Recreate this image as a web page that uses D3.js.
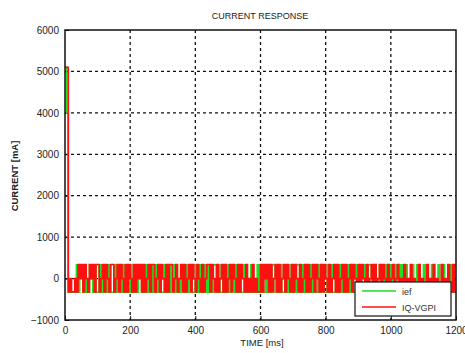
<!DOCTYPE html>
<html><head><meta charset="utf-8">
<script src="https://cdn.jsdelivr.net/npm/d3@7"></script>
<style>body{margin:0;background:#fff}svg{display:block}text{font-family:"Liberation Sans",Arial,sans-serif}</style>
</head><body>
<svg id="c" width="465" height="353"></svg>
<script>
const sampleMs = 5;
const xTicks = [0,200,400,600,800,1000,1200];
const yTicks = [-1000,0,1000,2000,3000,4000,5000,6000];
const seriesNames = ["ief","IQ-VGPI"];
// iref samples every 5 ms (mA)
const irefValues = [
5100,4000,-330,-330,-330,-330,-330,330,
-330,330,330,-330,330,-330,-330,330,
330,-330,330,-330,-330,330,-330,330,
-330,330,-330,330,-330,-330,330,-330,
330,330,-330,330,-330,330,-330,-330,
330,-330,-330,330,-330,330,330,-330,
-330,330,-330,330,330,-330,330,-330,
330,-330,330,-330,-330,330,-330,330,
-330,330,330,-330,330,-330,-330,330,
330,-330,330,-330,330,330,-330,-330,
330,-330,330,-330,-330,330,-330,330,
-330,330,-330,330,330,-330,330,-330,
-330,330,-330,-330,330,-330,330,330,
-330,330,-330,330,-330,-330,330,-330,
-330,-330,330,-330,-330,-330,330,-330,
330,-330,-330,330,-330,330,-330,330,
330,-330,330,-330,330,-330,-330,330,
-330,330,-330,-330,330,-330,330,330,
-330,330,-330,330,-330,-330,330,-330,
330,-330,-330,330,-330,330,330,-330,
-330,330,-330,330,-330,-330,330,-330,
330,-330,330,-330,-330,330,-330,330,
330,-330,-330,330,-330,330,-330,-330,
330,-330,330,330,-330,-330,330,-330,
-330,330,-330,330,-330,330,-330,-330,
330,-330,-330,330,-330,-330,330,-330,
-330,330,-330,-330,-330,330,-330,-330,
330,-330,-330,-330,330,-330,-330,-330,
-330,330,-330,-330,-330,330,-330,-330,
330,-330,-330,-330,330,-330,-330,330];
// IQ-VGPI samples every 5 ms (mA)
const iqVgpiValues = [
5100,5100,-320,0,-320,-320,0,-320,
340,0,340,-320,340,0,-320,340,
0,340,-320,340,340,-320,0,340,
-320,340,0,-320,340,340,-320,0,
340,-320,340,0,-320,340,-320,340,
0,-320,340,-320,340,0,340,-320,
340,-320,0,340,-320,340,340,-320,
0,340,-320,340,0,-320,340,-320,
340,340,-320,0,340,-320,0,340,
-320,340,-320,0,340,-320,340,0,
-320,340,0,-320,340,-320,0,340,
340,-320,340,0,-320,340,-320,0,
340,-320,340,-320,0,340,-320,340,
0,-320,340,-320,340,0,-320,340,
-320,0,-320,340,-320,0,-320,-320,
340,-320,340,0,340,-320,340,-320,
0,340,-320,340,-320,0,340,-320,
340,0,-320,340,-320,340,0,-320,
340,-320,0,340,-320,340,-320,0,
340,-320,340,0,-320,340,-320,340,
0,-320,340,-320,0,340,-320,340,
-320,0,340,-320,340,-320,0,340,
-320,340,0,-320,340,-320,340,0,
-320,340,-320,0,340,-320,340,-320,
0,340,-320,340,0,-320,340,-320,
0,340,-320,0,340,-320,0,-320,
340,-320,0,-320,340,-320,0,-320,
-320,340,-320,0,-320,-320,340,-320,
0,-320,340,-320,0,-320,-320,340,
-320,0,-320,340,-320,-320,340,-320];

const svg = d3.select("#c");
const m = {l:65, r:456, t:30, b:320};
const x = d3.scaleLinear().domain([0,1200]).range([m.l,m.r]);
const y = d3.scaleLinear().domain([-1000,6000]).range([m.b,m.t]);

// grid
const g = svg.append("g");
xTicks.slice(1,-1).forEach(v=>g.append("line").attr("x1",x(v)).attr("x2",x(v)).attr("y1",m.t).attr("y2",m.b)
  .attr("stroke","#111").attr("stroke-width",1.3).attr("stroke-dasharray","3,3"));
yTicks.slice(1,-1).forEach(v=>g.append("line").attr("x1",m.l).attr("x2",m.r).attr("y1",y(v)).attr("y2",y(v))
  .attr("stroke","#111").attr("stroke-width",1.3).attr("stroke-dasharray","3,3"));

// axes
const ax = svg.append("g").attr("transform",`translate(0,${m.b})`)
  .call(d3.axisBottom(x).tickValues(xTicks).tickSize(-4).tickPadding(8).tickFormat(d3.format("d")));
const ay = svg.append("g").attr("transform",`translate(${m.l},0)`)
  .call(d3.axisLeft(y).tickValues(yTicks).tickSize(-4).tickPadding(6).tickFormat(d3.format("d")));
[ax,ay].forEach(a=>{a.select(".domain").remove();a.selectAll("line").attr("stroke","#111");
  a.selectAll("text").attr("font-size",10).attr("fill","#222");});
ax.selectAll("text").attr("dy","0.6em");

// data lines
const toPts = vals => { const p = vals.map((v,i)=>[i*sampleMs,v]); p.push([1200,vals[vals.length-1]]); return p; };
const line = d3.line().x(d=>x(d[0])).y(d=>y(d[1])).curve(d3.curveStepAfter);
const clip = svg.append("clipPath").attr("id","pc").append("rect").attr("x",m.l).attr("y",m.t).attr("width",m.r-m.l).attr("height",m.b-m.t);
const lg = svg.append("g").attr("clip-path","url(#pc)");
lg.append("path").attr("d",line(toPts(irefValues))).attr("fill","none").attr("stroke","#22dd22").attr("stroke-width",1.7);
lg.append("path").attr("d",line(toPts(iqVgpiValues))).attr("fill","none").attr("stroke","#ff1010").attr("stroke-width",1.7);

// border
svg.append("rect").attr("x",m.l).attr("y",m.t).attr("width",m.r-m.l).attr("height",m.b-m.t)
  .attr("fill","none").attr("stroke","#111").attr("stroke-width",1.5);

// legend
const L = svg.append("g");
L.append("rect").attr("x",355).attr("y",282).attr("width",96).attr("height",34).attr("fill","#fff").attr("stroke","#111").attr("stroke-width",1.2);
const cols = ["#22dd22","#ff1010"];
seriesNames.forEach((n,i)=>{
  const yy = 291 + i*16;
  L.append("line").attr("x1",362).attr("x2",396).attr("y1",yy).attr("y2",yy).attr("stroke",cols[i]).attr("stroke-width",1.4);
  L.append("text").attr("x",402).attr("y",yy+3.5).attr("font-size",9).attr("fill","#333").text(n);
});

// titles
svg.append("text").attr("x",260).attr("y",19).attr("text-anchor","middle").attr("font-size",9).attr("fill","#222").text("CURRENT RESPONSE");
svg.append("text").attr("x",262).attr("y",346).attr("text-anchor","middle").attr("font-size",9.5).attr("fill","#222").text("TIME [ms]");
svg.append("text").attr("transform","translate(18,176) rotate(-90)").attr("text-anchor","middle").attr("font-size",9.5).attr("font-weight","bold").attr("fill","#222").text("CURRENT [mA]");
</script>
</body></html>
